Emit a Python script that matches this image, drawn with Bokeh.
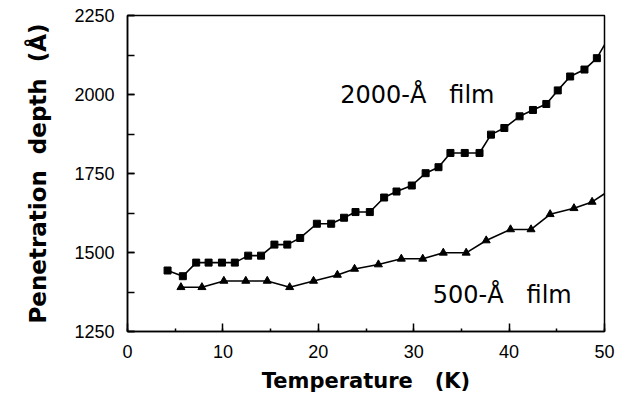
from bokeh.plotting import figure
from bokeh.models import SingleIntervalTicker, Label, Range1d
from bokeh.embed import file_html
from bokeh.resources import INLINE

# 2000-Å film (squares)
t_2000 = [4.2, 5.8, 7.2, 8.5, 9.9, 11.25, 12.65, 14.0, 15.4, 16.75, 18.1, 19.85, 21.35,
          22.7, 23.9, 25.4, 26.9, 28.2, 29.8, 31.25, 32.6, 33.85, 35.35, 36.9, 38.1,
          39.5, 41.1, 42.5, 43.9, 45.1, 46.4, 47.9, 49.2, 50.0]
d_2000 = [1443, 1425, 1468, 1468, 1468, 1468, 1490, 1490, 1525, 1525, 1546, 1591, 1591,
          1610, 1628, 1628, 1674, 1693, 1712, 1751, 1770, 1815, 1815, 1815, 1873,
          1894, 1931, 1951, 1970, 2013, 2057, 2079, 2115, 2157]

# 500-Å film (triangles)
t_500 = [5.6, 7.8, 10.1, 12.4, 14.65, 17.0, 19.5, 22.0, 23.8, 26.3, 28.7, 30.95,
         33.1, 35.5, 37.6, 40.15, 42.3, 44.3, 46.8, 48.7, 50.0]
d_500 = [1390, 1390, 1410, 1410, 1410, 1390, 1410, 1429, 1448, 1462, 1480, 1480,
         1499, 1499, 1538, 1573, 1573, 1621, 1640, 1660, 1686]

x_ticks_interval = 10
y_ticks_interval = 250

FONT = "Liberation Sans"
TITLE_FONT = "DejaVu Sans"
NB = "\u00a0"

p = figure(width=623, height=396, output_backend="svg", toolbar_location=None,
           x_range=Range1d(0, 50), y_range=Range1d(1250, 2250),
           min_border_left=127, min_border_right=19, min_border_top=15, min_border_bottom=65)
p.background_fill_color = "white"
p.border_fill_color = "white"
p.grid.visible = False
p.outline_line_color = "black"
p.outline_line_width = 1.5

p.xaxis.ticker = SingleIntervalTicker(interval=x_ticks_interval, num_minor_ticks=2)
p.yaxis.ticker = SingleIntervalTicker(interval=y_ticks_interval, num_minor_ticks=2)

for ax in (p.xaxis[0], p.yaxis[0]):
    ax.axis_line_color = "black"
    ax.axis_line_width = 1.5
    ax.major_tick_out = 0
    ax.minor_tick_out = 0
    ax.major_tick_line_width = 1.5
    ax.minor_tick_line_width = 1.5
    ax.major_label_text_font = FONT
    ax.major_label_text_font_size = "18px"
    ax.major_label_text_color = "black"
    ax.axis_label_text_font = TITLE_FONT
    ax.axis_label_text_font_style = "bold"
    ax.axis_label_text_color = "black"

p.xaxis.axis_label_text_font_size = "21px"
p.yaxis.axis_label_text_font_size = "23px"
p.xaxis.major_tick_in = 8
p.xaxis.minor_tick_in = 3
p.yaxis.major_tick_in = 7
p.yaxis.minor_tick_in = 7
p.xaxis.major_label_standoff = 13
p.yaxis.major_label_standoff = 13
p.xaxis.axis_label = "Temperature" + NB * 3 + "(K)"
p.xaxis.axis_label_standoff = 8
p.yaxis.axis_label = "Penetration" + NB * 2 + "depth" + NB * 2 + "(Å)"
p.yaxis.axis_label_standoff = 20

p.line(t_2000, d_2000, line_color="black", line_width=1.6)
p.scatter(t_2000[:-1], d_2000[:-1], marker="square", size=7, fill_color="black", line_color="black")

p.line(t_500, d_500, line_color="black", line_width=1.6)
p.scatter(t_500[:-1], d_500[:-1], marker="triangle", size=8, fill_color="black", line_color="black")

p.add_layout(Label(x=22.3, y=1997, text="2000-Å" + NB * 3 + "film", text_font=TITLE_FONT,
                   text_font_size="24px", text_color="black", text_baseline="alphabetic"))
p.add_layout(Label(x=32.0, y=1366, text="500-Å" + NB * 3 + "film", text_font=TITLE_FONT,
                   text_font_size="24px", text_color="black", text_baseline="alphabetic"))

open("out.html", "w").write(file_html(p, INLINE))
